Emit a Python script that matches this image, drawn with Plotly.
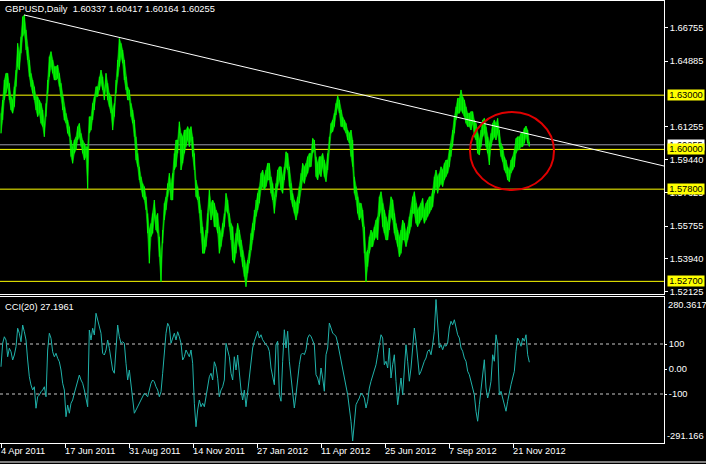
import plotly.graph_objects as go

# ---------------- data ----------------
symbol_title = "GBPUSD,Daily  1.60337 1.60417 1.60164 1.60255"
cci_title = "CCI(20) 27.1961"

# daily price range, sampled every 5/3 bars (bar 0 = 4 Apr 2011)
price_high = [
    1.6200, 1.6273, 1.6384, 1.6421, 1.6421, 1.6366, 1.6292, 1.6273, 1.6347, 1.6439,
    1.6587, 1.6532, 1.6624, 1.6734, 1.6744, 1.6661, 1.6568, 1.6495, 1.6421, 1.6384,
    1.6347, 1.6292, 1.6292, 1.6273, 1.6255, 1.6218, 1.6144, 1.6255, 1.6384, 1.6513,
    1.6541, 1.6495, 1.6458, 1.6458, 1.6467, 1.6421, 1.6366, 1.6292, 1.6236, 1.6200,
    1.6163, 1.6126, 1.6052, 1.6015, 1.6052, 1.6070, 1.6126, 1.6144, 1.6089, 1.6052,
    1.6034, 1.6015, 1.6015, 1.6181, 1.6181, 1.6255, 1.6292, 1.6347, 1.6347, 1.6402,
    1.6439, 1.6402, 1.6329, 1.6421, 1.6366, 1.6310, 1.6292, 1.6218, 1.6255, 1.6384,
    1.6495, 1.6614, 1.6587, 1.6550, 1.6495, 1.6402, 1.6347, 1.6329, 1.6255, 1.6218,
    1.6163, 1.6070, 1.5978, 1.5904, 1.5849, 1.5812, 1.5794, 1.5738, 1.5646, 1.5554,
    1.5591, 1.5646, 1.5720, 1.5628, 1.5646, 1.5517, 1.5406, 1.5554, 1.5702, 1.5738,
    1.5812, 1.5868, 1.5812, 1.5868, 1.5978,
    1.6052, 1.6052, 1.6153, 1.6089, 1.6070, 1.6107, 1.6107, 1.6126, 1.6107, 1.6126,
    1.6070, 1.5978, 1.5831, 1.5794, 1.5738, 1.5665, 1.5572, 1.5499, 1.5554, 1.5646,
    1.5775, 1.5702, 1.5720, 1.5702, 1.5665, 1.5646, 1.5572, 1.5536, 1.5591, 1.5646,
    1.5757, 1.5720, 1.5646, 1.5591, 1.5572, 1.5462, 1.5536, 1.5591, 1.5554, 1.5499,
    1.5443, 1.5388, 1.5351, 1.5388, 1.5443, 1.5536, 1.5591, 1.5665, 1.5720, 1.5757,
    1.5794, 1.5868, 1.5886, 1.5849, 1.5886, 1.5923, 1.5923, 1.5849, 1.5812, 1.5738,
    1.5812, 1.5886, 1.5904, 1.5904, 1.5849, 1.5904, 1.5987, 1.5978, 1.5904, 1.5812,
    1.5757, 1.5720, 1.5702, 1.5738, 1.5794, 1.5868, 1.5923, 1.5904, 1.5923, 1.5960,
    1.5978, 1.5978, 1.6061, 1.6052, 1.5960, 1.5923, 1.5960, 1.5960, 1.5978, 1.5941,
    1.5904, 1.5978, 1.6070, 1.6144, 1.6163, 1.6200, 1.6255, 1.6296, 1.6273, 1.6218,
    1.6181, 1.6163, 1.6144, 1.6107, 1.6089,
    1.6107, 1.6052, 1.5849, 1.5794, 1.5738, 1.5702, 1.5702, 1.5665, 1.5572, 1.5425,
    1.5443, 1.5517, 1.5554, 1.5536, 1.5572, 1.5609, 1.5628, 1.5738, 1.5766, 1.5702,
    1.5665, 1.5628, 1.5591, 1.5665, 1.5738, 1.5720, 1.5646, 1.5591, 1.5554, 1.5517,
    1.5554, 1.5609, 1.5591, 1.5536, 1.5572, 1.5628, 1.5665, 1.5738, 1.5766, 1.5702,
    1.5665, 1.5683, 1.5702, 1.5729, 1.5665, 1.5702, 1.5720, 1.5738, 1.5738, 1.5775,
    1.5849, 1.5886, 1.5849, 1.5868, 1.5904, 1.5886, 1.5923, 1.5941, 1.5941, 1.5997,
    1.6034, 1.6107, 1.6181, 1.6236, 1.6283, 1.6283, 1.6329, 1.6292, 1.6273, 1.6236,
    1.6200, 1.6200, 1.6209, 1.6209, 1.6163, 1.6144, 1.6089, 1.6052, 1.6107, 1.6163,
    1.6172, 1.6126, 1.6070, 1.6034, 1.6089, 1.6144, 1.6163, 1.6144, 1.6172, 1.6107,
    1.6034, 1.6015, 1.5960, 1.5941, 1.5904, 1.5886, 1.5941, 1.5960, 1.5997, 1.6061,
    1.6070, 1.6070, 1.6089, 1.6089, 1.6117, 1.6129, 1.6107, 1.6042,
]
price_low = [
    1.6089, 1.6163, 1.6273, 1.6310, 1.6347, 1.6273, 1.6218, 1.6200, 1.6236, 1.6347,
    1.6458, 1.6439, 1.6532, 1.6624, 1.6642, 1.6550, 1.6495, 1.6402, 1.6347, 1.6310,
    1.6273, 1.6218, 1.6181, 1.6200, 1.6144, 1.6126, 1.6070, 1.6181, 1.6310, 1.6402,
    1.6458, 1.6421, 1.6384, 1.6384, 1.6393, 1.6347, 1.6292, 1.6218, 1.6163, 1.6144,
    1.6089, 1.6070, 1.5960, 1.5923, 1.5978, 1.5997, 1.6052, 1.6070, 1.6015, 1.5978,
    1.5941, 1.5960, 1.5781, 1.6089, 1.6107, 1.6163, 1.6218, 1.6292, 1.6292, 1.6329,
    1.6366, 1.6329, 1.6273, 1.6347, 1.6273, 1.6236, 1.6200, 1.6107, 1.6181, 1.6310,
    1.6402, 1.6458, 1.6513, 1.6476, 1.6384, 1.6329, 1.6273, 1.6273, 1.6181, 1.6144,
    1.6070, 1.5941, 1.5904, 1.5831, 1.5775, 1.5738, 1.5720, 1.5665, 1.5536, 1.5370,
    1.5517, 1.5536, 1.5628, 1.5554, 1.5536, 1.5406, 1.5268, 1.5480, 1.5609, 1.5665,
    1.5738, 1.5794, 1.5720, 1.5720, 1.5886,
    1.5904, 1.5978, 1.6089, 1.5886, 1.5923, 1.5978, 1.6015, 1.6052, 1.6015, 1.6052,
    1.5960, 1.5886, 1.5738, 1.5720, 1.5646, 1.5536, 1.5425, 1.5425, 1.5462, 1.5536,
    1.5683, 1.5609, 1.5646, 1.5572, 1.5572, 1.5536, 1.5425, 1.5462, 1.5517, 1.5572,
    1.5665, 1.5646, 1.5572, 1.5499, 1.5388, 1.5370, 1.5425, 1.5499, 1.5462, 1.5406,
    1.5351, 1.5296, 1.5240, 1.5314, 1.5370, 1.5443, 1.5499, 1.5554, 1.5628, 1.5665,
    1.5702, 1.5775, 1.5794, 1.5775, 1.5794, 1.5831, 1.5831, 1.5757, 1.5720, 1.5646,
    1.5738, 1.5794, 1.5831, 1.5775, 1.5757, 1.5831, 1.5904, 1.5886, 1.5794, 1.5720,
    1.5683, 1.5646, 1.5609, 1.5646, 1.5702, 1.5775, 1.5831, 1.5812, 1.5849, 1.5868,
    1.5904, 1.5904, 1.5978, 1.5997, 1.5849, 1.5831, 1.5868, 1.5849, 1.5904, 1.5849,
    1.5821, 1.5886, 1.5997, 1.6089, 1.6098, 1.6126, 1.6190, 1.6236, 1.6200, 1.6126,
    1.6126, 1.6107, 1.6089, 1.6052, 1.6034,
    1.5960, 1.5904, 1.5757, 1.5720, 1.5646, 1.5609, 1.5628, 1.5572, 1.5425, 1.5268,
    1.5351, 1.5425, 1.5462, 1.5462, 1.5499, 1.5517, 1.5499, 1.5628, 1.5665, 1.5572,
    1.5536, 1.5499, 1.5499, 1.5554, 1.5628, 1.5609, 1.5536, 1.5499, 1.5462, 1.5406,
    1.5425, 1.5499, 1.5499, 1.5462, 1.5499, 1.5536, 1.5572, 1.5646, 1.5646, 1.5591,
    1.5572, 1.5591, 1.5609, 1.5628, 1.5591, 1.5609, 1.5628, 1.5646, 1.5665, 1.5683,
    1.5757, 1.5794, 1.5757, 1.5794, 1.5812, 1.5794, 1.5831, 1.5849, 1.5868, 1.5904,
    1.5960, 1.6015, 1.6089, 1.6163, 1.6200, 1.6200, 1.6218, 1.6200, 1.6181, 1.6144,
    1.6126, 1.6126, 1.6107, 1.6144, 1.6070, 1.6052, 1.5978, 1.5969, 1.6015, 1.6070,
    1.6089, 1.6015, 1.5978, 1.5914, 1.6015, 1.6052, 1.6070, 1.6052, 1.6089, 1.6015,
    1.5960, 1.5932, 1.5886, 1.5868, 1.5831, 1.5821, 1.5868, 1.5886, 1.5904, 1.5978,
    1.5997, 1.5997, 1.6015, 1.6015, 1.6034, 1.6070, 1.6034, 1.6016,
]

# CCI(20), same sampling
cci_values = [
    9, 103, 129, 116, 49, 83, 69, 36, 56, 89,
    163, 143, 109, 176, 149, 116, 36, -31, -64, -84,
    -71, -157, -111, -104, -91, -84, -71, -111, 76, 143,
    123, 69, 49, 63, 43, 29, -4, -57, -84, -191,
    -144, -177, -137, -124, -97, -71, -57, -24, -44, -57,
    -84, -124, -151, 156, 116, 163, 136, 223, 196, 169,
    143, 63, 56, 76, 116, 83, 36, -4, -17, 89,
    176, 129, 103, 109, 103, 23, -44, -4, -57, -111,
    -177, -164, -151, -137, -124, -111, -97, -104, -111, -84,
    -57, -44, -51, -71, -84, -111, -91, -17, 63, 143,
    183, 169, 103, 129, 143, 116, 149, 129, 103, 36,
    49, 76, 63, 49, 76, 23, -137, -231, -164, -124,
    -151, -137, -151, -111, -84, -31, -17, -44, 29, 9,
    -37, -111, -84, -71, -44, 103, 76, 49, -17, -44,
    49, -4, 56, -17, -84, -124, -84, -151,
    -89, -23, 31, 84, 111, 137, 151, 124, 137, 117,
    104, 97, 91, 71, 4, -36, -63, 97, 111, -103,
    -129, 31, 157, 84, 151, 31, -36, -89, -156, -103,
    -36, 17, 57, 64, 57, 77, 124, 137, 131, 111,
    97, -23, -36, -63, 4, -36, -89, 57, 84, 184,
    164, 144, 137, 131, 104, 71, 31, 4, -36, -76,
    -103, -156, -209, -288, -196, -143, -129, -116, -96, -103,
    -116, -156, -129, -76, -49, -23, -9, 17, 57, 97,
    137, 124, 17, 31, 4, 84, -36, 17, 57, -49,
    -143, -89, -36, -103, -9, 97, 31, -49, 4, 97,
    164, 111, 31, -23, -9, 17, 31, 44, 71, 77,
    57, 97, 151, 278, 191, 84, 97, 77, 97, 91,
    104, 164, 191, 177, 197, 164, 137, 124, 84, 71,
    44, 31, -9, -23, -49, -76, -103, -169, -209, -143,
    -89, -23, 37, -76, -116, -89, -49, 57, 31, 137,
    97, -103, -89, -116, -143, -169, -129, -89, -63, -36,
    -9, 71, 124, 111, 91, 124, 111, 137, 57, 27,
]

sample_step_bars = 5 / 3
price_bars = [round(i * sample_step_bars, 3) for i in range(len(price_high))]
cci_bars = [round(i * sample_step_bars, 3) for i in range(len(cci_values))]

date_labels = ["4 Apr 2011", "17 Jun 2011", "31 Aug 2011", "14 Nov 2011", "27 Jan 2012",
               "11 Apr 2012", "25 Jun 2012", "7 Sep 2012", "21 Nov 2012"]
date_bars = [0, 64, 128, 192, 256, 320, 384, 448, 512]

level_prices = [1.63000, 1.60000, 1.57800, 1.52700]
level_labels = ["1.63000", "1.60000", "1.57800", "1.52700"]
bid_price = 1.60255
bid_label = "1.60255"

price_tickvals = [1.66755, 1.64885, 1.61255, 1.59440, 1.57625, 1.55755, 1.53940, 1.52125]
price_ticktext = ["1.66755", "1.64885", "1.61255", "1.59440", "1.57625", "1.55755", "1.53940", "1.52125"]
price_range = [1.5200, 1.6821]

cci_tickvals = [100, 0, -100]
cci_ticktext = ["100", "0.00", "-100"]
cci_levels = [100, -100]
cci_max_label = "280.3617"
cci_min_label = "-291.166"
cci_range = [-296, 288]

trend_bars = [23, 663]
trend_prices = [1.6744, 1.5908]

circle_bars = [469, 553]
circle_prices = [1.5775, 1.6207]

x_range = [-1, 663]

# ---------------- style ----------------
GREEN = "#00ff00"
CCI_COLOR = "#20b2aa"
YELLOW = "#ffff00"
FONT = "Liberation Sans, Arial, sans-serif"
FS = 9.3

fig = go.Figure()

# price bars as vertical high-low segments over a light band
seg_x, seg_y = [], []
for b, h, l in zip(price_bars, price_high, price_low):
    seg_x += [b, b, None]
    seg_y += [l, h, None]
fig.add_trace(go.Scatter(x=price_bars, y=price_low, mode="lines",
                         line=dict(color=GREEN, width=0.5), xaxis="x", yaxis="y",
                         hoverinfo="skip", showlegend=False))
fig.add_trace(go.Scatter(x=price_bars, y=price_high, mode="lines",
                         line=dict(color=GREEN, width=0.5), fill="tonexty",
                         fillcolor="rgba(0,235,0,0.8)",
                         xaxis="x", yaxis="y", hoverinfo="skip", showlegend=False))
fig.add_trace(go.Scatter(x=seg_x, y=seg_y, mode="lines", connectgaps=False,
                         line=dict(color=GREEN, width=1), xaxis="x", yaxis="y",
                         hoverinfo="skip", showlegend=False))
fig.add_trace(go.Scatter(x=trend_bars, y=trend_prices, mode="lines",
                         line=dict(color="white", width=1), xaxis="x", yaxis="y",
                         hoverinfo="skip", showlegend=False))
fig.add_trace(go.Scatter(x=cci_bars, y=cci_values, mode="lines",
                         line=dict(color=CCI_COLOR, width=1), xaxis="x2", yaxis="y2",
                         hoverinfo="skip", showlegend=False))

shapes = []
shapes.append(dict(type="line", xref="x domain", yref="y", x0=0, x1=1, y0=bid_price, y1=bid_price,
                   line=dict(color="#9a9aaa", width=1), layer="below"))
for p in level_prices:
    shapes.append(dict(type="line", xref="x domain", yref="y", x0=0, x1=1, y0=p, y1=p,
                       line=dict(color=YELLOW, width=1), layer="below"))
for v in cci_levels:
    shapes.append(dict(type="line", xref="x2 domain", yref="y2", x0=0, x1=1, y0=v, y1=v,
                       line=dict(color="#c8c8c8", width=1, dash="3px,3px"), layer="below"))
shapes.append(dict(type="circle", xref="x", yref="y", x0=circle_bars[0], x1=circle_bars[1],
                   y0=circle_prices[0], y1=circle_prices[1], line=dict(color="#e00000", width=2)))
# window bottom edge
shapes.append(dict(type="line", xref="paper", yref="paper", x0=0, x1=1.07, y0=-0.043, y1=-0.043,
                   line=dict(color="white", width=1)))

annotations = []
annotations.append(dict(text=symbol_title, xref="paper", yref="paper", x=0, y=1, xanchor="left",
                        yanchor="top", xshift=3, yshift=-1, showarrow=False,
                        font=dict(color="white", size=FS, family=FONT)))
annotations.append(dict(text=cci_title, xref="paper", yref="y2 domain", x=0, y=1, xanchor="left",
                        yanchor="top", xshift=3, yshift=-3, showarrow=False,
                        font=dict(color="white", size=FS, family=FONT)))
annotations.append(dict(text=bid_label, xref="paper", yref="y", x=1, y=bid_price, xanchor="left",
                        yanchor="middle", xshift=3, showarrow=False, bgcolor="white",
                        width=36, height=10, borderpad=0,
                        font=dict(color="black", size=FS, family=FONT)))
for p, t in zip(level_prices, level_labels):
    annotations.append(dict(text=t, xref="paper", yref="y", x=1, y=p, xanchor="left",
                            yanchor="middle", xshift=3, showarrow=False, bgcolor=YELLOW,
                            width=36, height=10, borderpad=0,
                            font=dict(color="black", size=FS, family=FONT)))
annotations.append(dict(text=cci_max_label, xref="paper", yref="y2 domain", x=1, y=1, xanchor="left",
                        yanchor="top", xshift=2, yshift=-1, showarrow=False,
                        font=dict(color="white", size=FS, family=FONT)))
annotations.append(dict(text=cci_min_label, xref="paper", yref="y2 domain", x=1, y=0, xanchor="left",
                        yanchor="bottom", xshift=1, yshift=0, showarrow=False,
                        font=dict(color="white", size=FS, family=FONT)))
for b, t in zip(date_bars, date_labels):
    annotations.append(dict(text=t, xref="x2", yref="paper", x=b, y=0, xanchor="left",
                            yanchor="top", xshift=-2, yshift=-1, showarrow=False,
                            font=dict(color="white", size=FS, family=FONT)))

axis_common = dict(showgrid=False, zeroline=False, linecolor="white", linewidth=1, showline=True)

fig.update_layout(
    width=706, height=464, autosize=False,
    paper_bgcolor="black", plot_bgcolor="black",
    margin=dict(l=0, r=42, t=1, b=21),
    showlegend=False,
    shapes=shapes, annotations=annotations,
    xaxis=dict(domain=[0, 1], range=x_range, anchor="y", showticklabels=False, ticks="",
               mirror=True, **axis_common),
    yaxis=dict(domain=[0.3371, 1], range=price_range, side="right", anchor="x",
               tickmode="array", tickvals=price_tickvals, ticktext=price_ticktext,
               ticks="outside", ticklen=3, tickcolor="white",
               tickfont=dict(color="white", size=FS, family=FONT), **axis_common),
    xaxis2=dict(domain=[0, 1], range=x_range, anchor="y2", showticklabels=False,
                tickmode="array", tickvals=date_bars, ticks="outside", ticklen=4,
                tickcolor="white", mirror=True, **axis_common),
    yaxis2=dict(domain=[0, 0.3303], range=cci_range, side="right", anchor="x2",
                tickmode="array", tickvals=cci_tickvals, ticktext=cci_ticktext,
                ticks="outside", ticklen=2, tickcolor="white",
                tickfont=dict(color="white", size=FS, family=FONT), **axis_common),
)

fig.write_html("out.html", config={"displayModeBar": False},
               post_script="document.body.style.margin='0px';document.body.style.background='black';")
